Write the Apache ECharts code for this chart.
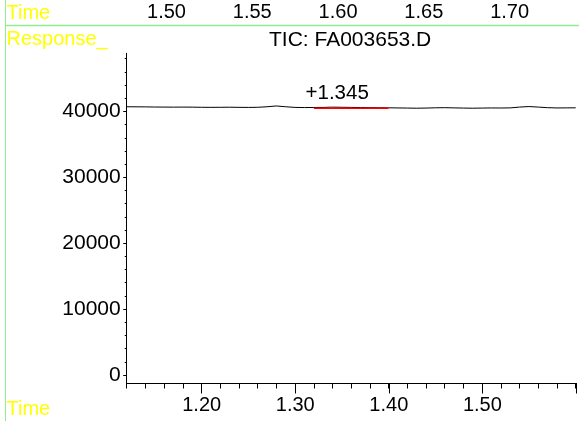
<!DOCTYPE html>
<html>
<head>
<meta charset="utf-8">
<script src="https://cdn.jsdelivr.net/npm/echarts@6/dist/echarts.min.js"></script>
<style>
html,body{margin:0;padding:0;background:#fff;}
#chart{width:579px;height:421px;}
</style>
</head>
<body>
<div id="chart"></div>
<script>
// Retention time (min) and TIC response
const times = [1.12,1.13,1.14,1.15,1.16,1.17,1.18,1.19,1.20,1.21,1.22,1.23,1.24,1.25,1.26,1.27,1.28,1.29,1.30,
  1.31,1.32,1.33,1.34,1.35,1.36,1.37,1.38,1.39,1.40,1.41,1.42,1.43,1.44,1.45,1.46,1.47,1.48,1.49,1.50,
  1.51,1.52,1.53,1.54,1.55,1.56,1.57,1.58,1.59,1.60];
const response = [40700,40690,40680,40660,40650,40640,40650,40640,40620,40610,40620,40630,40610,40600,40620,40700,40820,40700,40600,
  40580,40590,40600,40640,40620,40600,40580,40560,40550,40540,40520,40500,40480,40500,40540,40560,40530,40500,40480,40500,
  40520,40510,40530,40650,40730,40650,40560,40520,40530,40540];
// Integration baseline of the labelled peak
const baselineTimes = [1.32, 1.40];
const baselineValues = [40480, 40460];
const peakRT = [1.345];
const peakLabel = ['+1.345'];
const peakLabelValue = [40620];
// Axis ranges / tick labels
const xRange = [1.12, 1.60];
const xMajorRange = [1.20, 1.60];
const yRange = [-1210, 48810];
const yMinorRange = [0, 48000];
const yMajorRange = [0, 40000];
const topRange = [1.50, 1.70];
const titleText = 'TIC: FA003653.D';
const cornerLabels = ['Time', 'Response_', 'Time'];

const FONT = 'Liberation Sans, Arial, sans-serif';
const FS = 20;

const chart = echarts.init(document.getElementById('chart'), null, {renderer: 'canvas'});
const lineData = times.map((t, i) => [t, response[i]]);
const baseData = baselineTimes.map((t, i) => [t, baselineValues[i]]);

const hiddenX = (g) => ({gridIndex: g, type: 'value', min: 0, max: 1, show: false});
const hiddenY = (g) => ({gridIndex: g, type: 'value', min: 0, max: 1, show: false});

const option = {
  animation: false,
  backgroundColor: '#fff',
  textStyle: {fontFamily: FONT},
  title: {
    text: titleText, left: 269, top: 30, padding: 0,
    textStyle: {fontSize: 21, fontWeight: 'normal', color: '#000', fontFamily: FONT}
  },
  grid: [
    {left: 126.7, top: 53.3, width: 449, height: 329.7},           // data
    {left: 126.7, top: 58.7, width: 449, height: 316.3},           // y minor ticks
    {left: 126.7, top: 111.4, width: 449, height: 263.6},          // y major ticks
    {left: 201.7, top: 53.3, width: 374.2, height: 329.7},         // x major ticks
    {left: 166.5, top: 25, width: 343.1, height: 20}               // top time axis
  ],
  xAxis: [
    {gridIndex: 0, type: 'value', min: xRange[0], max: xRange[1], interval: 0.02,
      axisLine: {show: true, onZero: false, lineStyle: {color: '#000', width: 1}},
      axisTick: {show: true, length: 5.5, lineStyle: {color: '#000', width: 1}},
      axisLabel: {show: false}, splitLine: {show: false}},
    hiddenX(1),
    hiddenX(2),
    {gridIndex: 3, type: 'value', min: xMajorRange[0], max: xMajorRange[1], interval: 0.1,
      axisLine: {show: false, onZero: false},
      axisTick: {show: true, length: 10.5, lineStyle: {color: '#000', width: 1}},
      axisLabel: {show: true, fontSize: FS, color: '#000', margin: 12, fontFamily: FONT,
        formatter: v => Math.abs(v - xMajorRange[1]) < 1e-6 ? '' : v.toFixed(2)},
      splitLine: {show: false}},
    {gridIndex: 4, type: 'value', position: 'top', min: topRange[0], max: topRange[1], interval: 0.05,
      axisLine: {show: false, onZero: false}, axisTick: {show: false},
      axisLabel: {show: true, fontSize: FS, color: '#000', margin: 3, fontFamily: FONT,
        formatter: v => v.toFixed(2)},
      splitLine: {show: false}}
  ],
  yAxis: [
    {gridIndex: 0, type: 'value', min: yRange[0], max: yRange[1],
      axisLine: {show: true, onZero: false, lineStyle: {color: '#000', width: 1}},
      axisTick: {show: false}, axisLabel: {show: false}, splitLine: {show: false}},
    {gridIndex: 1, type: 'value', min: yMinorRange[0], max: yMinorRange[1], interval: 2000,
      axisLine: {show: false, onZero: false},
      axisTick: {show: true, length: 2, lineStyle: {color: '#000', width: 1}},
      axisLabel: {show: false}, splitLine: {show: false}},
    {gridIndex: 2, type: 'value', min: yMajorRange[0], max: yMajorRange[1], interval: 10000,
      axisLine: {show: false, onZero: false},
      axisTick: {show: true, length: 3.5, lineStyle: {color: '#000', width: 1}},
      axisLabel: {show: true, fontSize: 21, color: '#000', margin: 6, fontFamily: FONT,
        formatter: v => String(Math.round(v))},
      splitLine: {show: false}},
    hiddenY(3),
    hiddenY(4)
  ],
  series: [
    {type: 'line', xAxisIndex: 0, yAxisIndex: 0, data: lineData, symbol: 'none', silent: true,
      lineStyle: {color: '#000', width: 1}},
    {type: 'line', xAxisIndex: 0, yAxisIndex: 0, data: baseData, symbol: 'none', silent: true,
      lineStyle: {color: '#ff0000', width: 1.5},
      markPoint: {
        symbol: 'circle', symbolSize: 0, silent: true,
        data: peakRT.map((t, i) => ({coord: [t, peakLabelValue[i]], value: peakLabel[i]})),
        label: {show: true, position: 'top', distance: 3, color: '#000', fontSize: 20.5, fontFamily: FONT,
          formatter: p => p.value}
      }}
  ],
  graphic: [
    {type: 'line', shape: {x1: 5.5, y1: 0, x2: 5.5, y2: 421}, style: {stroke: '#90ee90', lineWidth: 1}, silent: true},
    {type: 'line', shape: {x1: 5, y1: 25.5, x2: 579, y2: 25.5}, style: {stroke: '#90ee90', lineWidth: 1.5}, silent: true},
    {type: 'text', left: 6.5, top: 3, style: {text: cornerLabels[0], fill: '#ffff00', font: FS + 'px ' + FONT}, silent: true},
    {type: 'text', left: 6.5, top: 29, style: {text: cornerLabels[1], fill: '#ffff00', font: FS + 'px ' + FONT}, silent: true},
    {type: 'text', left: 6.5, top: 399, style: {text: cornerLabels[2], fill: '#ffff00', font: FS + 'px ' + FONT}, silent: true}
  ]
};
chart.setOption(option);
</script>
</body>
</html>
